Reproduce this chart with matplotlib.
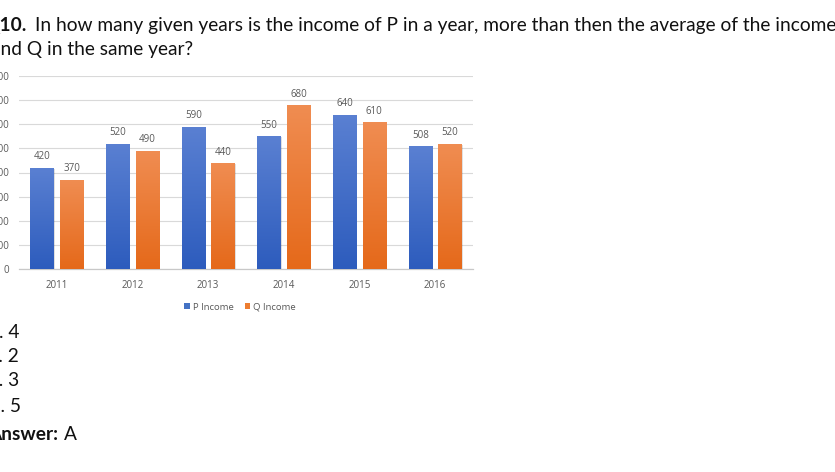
import matplotlib
matplotlib.use("Agg")
import matplotlib.pyplot as plt
import numpy as np
from matplotlib.colors import LinearSegmentedColormap

years = ["2011", "2012", "2013", "2014", "2015", "2016"]
p_income = [420, 520, 590, 550, 640, 508]
q_income = [370, 490, 440, 680, 610, 520]
y_ticks = [0, 100, 200, 300, 400, 500, 600, 700, 800]
series_names = ["P Income", "Q Income"]

question_num = "Q10."
question_line1 = "In how many given years is the income of P in a year, more than then the average of the income of P"
question_line2 = "and Q in the same year?"
options = ["A. 4", "B. 2", "C. 3", "D. 5"]
answer = "A"

W, H = 835, 472
fig = plt.figure(figsize=(W / 100, H / 100), dpi=100)
fig.patch.set_facecolor("white")

ax = fig.add_axes([19 / W, 1 - 269 / H, 454 / W, 193 / H])

x = np.arange(len(years))
bw = 0.31
off = 0.195

blue_cmap = LinearSegmentedColormap.from_list("b", ["#2d5cbd", "#5a80d2"])
orange_cmap = LinearSegmentedColormap.from_list("o", ["#e5691a", "#f08d52"])
grad = np.linspace(0, 1, 256).reshape(-1, 1)

def draw(xs, vals, cmap, label, color):
    bars = ax.bar(xs, vals, width=bw, color=color, label=label, zorder=3)
    for b, v in zip(bars, vals):
        ax.bar(b.get_x() + b.get_width() / 2 + 0.012, v, width=bw, bottom=-4,
               color="#000000", alpha=0.12, zorder=2.5)
        im = ax.imshow(grad, cmap=cmap, origin="lower", aspect="auto",
                       extent=[b.get_x(), b.get_x() + b.get_width(), 0, v],
                       zorder=3.5)
        im.set_clip_path(b)
        ax.text(b.get_x() + b.get_width() / 2, v + 22, str(v), ha="center",
                va="bottom", fontsize=7, color="#595959", family="Open Sans")
    return bars

draw(x - off, p_income, blue_cmap, series_names[0], "#4472c4")
draw(x + off, q_income, orange_cmap, series_names[1], "#ed7d31")
ax.set_xlim(-0.5, len(years) - 0.5)
ax.set_ylim(0, 800)

ax.set_yticks(y_ticks)
ax.set_yticklabels([str(t) for t in y_ticks], fontsize=7, color="#595959", family="Open Sans")
ax.set_xticks(x)
ax.set_xticklabels(years, fontsize=7, color="#595959", family="Open Sans")
ax.tick_params(axis="both", length=0)
ax.tick_params(axis="y", pad=7)
ax.tick_params(axis="x", pad=8)
ax.grid(axis="y", color="#d9d9d9", linewidth=0.8, zorder=0)
ax.set_axisbelow(True)
for s in ["top", "right", "left"]:
    ax.spines[s].set_visible(False)
ax.spines["bottom"].set_color("#c8c8c8")
ax.spines["bottom"].set_linewidth(0.9)
ax.set_facecolor("white")

leg = fig.legend(loc="center", bbox_to_anchor=(240 / W, 1 - 307 / H), ncol=2,
                 frameon=False, handlelength=0.6, handleheight=0.6,
                 handletextpad=0.3, columnspacing=1.2,
                 prop={"family": "Open Sans", "size": 6.8})
for t in leg.get_texts():
    t.set_color("#595959")

tf = "Lato"
fs = 13.8
col = "#111111"
fig.text(-16 / W, 1 - 25 / H, question_num, fontsize=fs, va="center", ha="left",
         family=tf, weight="bold", color=col)
fig.text(35 / W, 1 - 25 / H, question_line1, fontsize=fs,
         va="center", ha="left", family=tf, color=col)
fig.text(-9 / W, 1 - 50 / H, question_line2, fontsize=fs, va="center",
         ha="left", family=tf, color=col)

ys = [332, 356, 381, 407]
for o, yy in zip(options, ys):
    fig.text(-14 / W, 1 - yy / H, o, fontsize=fs, va="center", ha="left",
             family=tf, color=col)
fig.text(-12 / W, 1 - 434 / H, "Answer:", fontsize=fs, va="center", ha="left",
         family=tf, weight="bold", color=col)
fig.text(64 / W, 1 - 434 / H, answer, fontsize=fs, va="center", ha="left",
         family=tf, color=col)

fig.savefig("out.png", dpi=100, facecolor="white")
